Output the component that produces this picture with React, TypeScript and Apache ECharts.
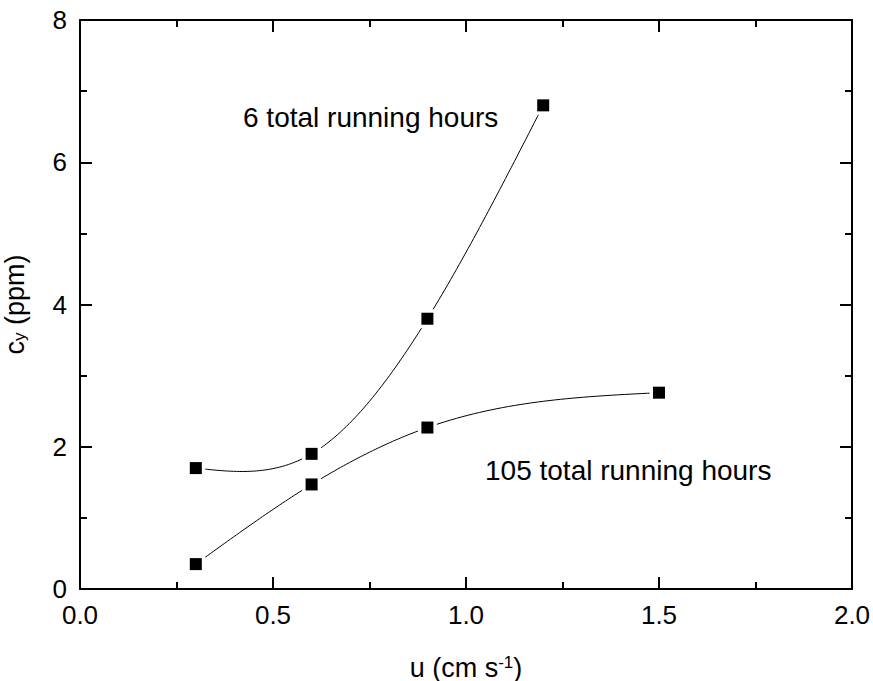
import React, { useEffect, useRef } from "react";
import * as echarts from "echarts";

const xTicks = [0, 0.5, 1.0, 1.5, 2.0];
const yTicks = [0, 2, 4, 6, 8];
const u6 = [0.3, 0.6, 0.9, 1.2];
const c6 = [1.7, 1.9, 3.8, 6.8];
const u105 = [0.3, 0.6, 0.9, 1.5];
const c105 = [0.35, 1.47, 2.27, 2.76];
const label6 = "6 total running hours";
const label105 = "105 total running hours";

const FONT = "'Liberation Sans', Arial, sans-serif";

// natural cubic spline second derivatives
function splineM(xs: number[], ys: number[]): number[] {
  const n = xs.length;
  const M = new Array(n).fill(0);
  if (n < 3) return M;
  const a: number[] = [], b: number[] = [], c: number[] = [], d: number[] = [];
  for (let i = 1; i < n - 1; i++) {
    const h0 = xs[i] - xs[i - 1];
    const h1 = xs[i + 1] - xs[i];
    a.push(h0);
    b.push(2 * (h0 + h1));
    c.push(h1);
    d.push(6 * ((ys[i + 1] - ys[i]) / h1 - (ys[i] - ys[i - 1]) / h0));
  }
  const m = b.length;
  for (let i = 1; i < m; i++) {
    const w = a[i] / b[i - 1];
    b[i] -= w * c[i - 1];
    d[i] -= w * d[i - 1];
  }
  const sol = new Array(m).fill(0);
  sol[m - 1] = d[m - 1] / b[m - 1];
  for (let i = m - 2; i >= 0; i--) sol[i] = (d[i] - c[i] * sol[i + 1]) / b[i];
  for (let i = 0; i < m; i++) M[i + 1] = sol[i];
  return M;
}

function splineCurve(xs: number[], ys: number[], api: any): number[][] {
  const M = splineM(xs, ys);
  const pts: number[][] = [];
  for (let i = 0; i < xs.length - 1; i++) {
    const h = xs[i + 1] - xs[i];
    const steps = 40;
    for (let k = 0; k <= steps; k++) {
      if (i > 0 && k === 0) continue;
      const t = k / steps;
      const x = xs[i] + t * h;
      const A = 1 - t;
      const B = t;
      const y =
        A * ys[i] + B * ys[i + 1] +
        ((A * A * A - A) * M[i] + (B * B * B - B) * M[i + 1]) * (h * h) / 6;
      pts.push(api.coord([x, y]));
    }
  }
  return pts;
}

function curveSeries(xs: number[], ys: number[]) {
  return {
    type: "custom",
    data: xs.map((x, i) => [x, ys[i]]),
    z: 2,
    silent: true,
    renderItem: (params: any, api: any) => {
      if (params.dataIndex !== 0) return null;
      return {
        type: "polyline",
        shape: { points: splineCurve(xs, ys, api) },
        style: { stroke: "#000", lineWidth: 1, fill: null },
      };
    },
  };
}

export default function App() {
  const ref = useRef<HTMLDivElement>(null);
  useEffect(() => {
    if (!ref.current) return;
    const chart = echarts.init(ref.current, undefined, { renderer: "svg" });
    const s6 = u6.map((u, i) => [u, c6[i]]);
    const s105 = u105.map((u, i) => [u, c105[i]]);
    const axisCommon = {
      axisLine: { show: true, onZero: false, lineStyle: { color: "#000", width: 2 } },
      axisTick: { show: true, inside: true, length: 12, lineStyle: { color: "#000", width: 2 } },
      minorTick: { show: true, splitNumber: 2, length: 7, lineStyle: { color: "#000", width: 2 } },
      splitLine: { show: false },
    };
    chart.setOption({
      animation: false,
      backgroundColor: "#fff",
      textStyle: { fontFamily: FONT },
      grid: { left: 80, top: 20, right: 21, bottom: 92, containLabel: false, outerBoundsMode: "none" },
      xAxis: [
        {
          type: "value",
          min: xTicks[0],
          max: xTicks[xTicks.length - 1],
          interval: 0.5,
          position: "bottom",
          ...axisCommon,
          axisLabel: {
            color: "#000",
            fontSize: 26,
            fontFamily: FONT,
            margin: 13,
            formatter: (v: number) => v.toFixed(1),
          },
          name: "u (cm s{sup|-1})",
          nameLocation: "middle",
          nameGap: 65,
          nameTextStyle: {
            color: "#000",
            fontSize: 27,
            fontFamily: FONT,
            rich: {
              sup: { fontSize: 17, fontFamily: FONT, color: "#000", verticalAlign: "top", lineHeight: 12 },
            },
          },
        },
        {
          type: "value",
          min: xTicks[0],
          max: xTicks[xTicks.length - 1],
          interval: 0.5,
          position: "top",
          ...axisCommon,
          axisLabel: { show: false },
        },
      ],
      yAxis: [
        {
          type: "value",
          min: yTicks[0],
          max: yTicks[yTicks.length - 1],
          interval: 2,
          position: "left",
          ...axisCommon,
          axisLabel: { color: "#000", fontSize: 26, fontFamily: FONT, margin: 13 },
          name: "c{sub|y} (ppm)",
          nameLocation: "middle",
          nameGap: 52,
          nameRotate: 90,
          nameTextStyle: {
            color: "#000",
            fontSize: 27,
            fontFamily: FONT,
            rich: {
              sub: { fontSize: 17, fontFamily: FONT, color: "#000", verticalAlign: "bottom", lineHeight: 6 },
            },
          },
        },
        {
          type: "value",
          min: yTicks[0],
          max: yTicks[yTicks.length - 1],
          interval: 2,
          position: "right",
          ...axisCommon,
          axisLabel: { show: false },
        },
      ],
      series: [
        curveSeries(u6, c6),
        curveSeries(u105, c105),
        {
          type: "scatter",
          data: [...s6, ...s105],
          symbol: "rect",
          symbolSize: 19,
          itemStyle: { color: "#fff", opacity: 1 },
          z: 3,
          silent: true,
        },
        {
          type: "scatter",
          data: [...s6, ...s105],
          symbol: "rect",
          symbolSize: 12,
          itemStyle: { color: "#000", opacity: 1 },
          z: 4,
        },
      ],
      graphic: [
        {
          type: "text",
          left: 243,
          top: 103,
          style: { text: label6, fontSize: 28, fontFamily: FONT, fill: "#000" },
        },
        {
          type: "text",
          left: 485,
          top: 456,
          style: { text: label105, fontSize: 28, fontFamily: FONT, fill: "#000" },
        },
      ],
    });
    return () => chart.dispose();
  }, []);
  return <div ref={ref} style={{ width: 873, height: 681, position: "absolute", left: 0, top: 0 }} />;
}
